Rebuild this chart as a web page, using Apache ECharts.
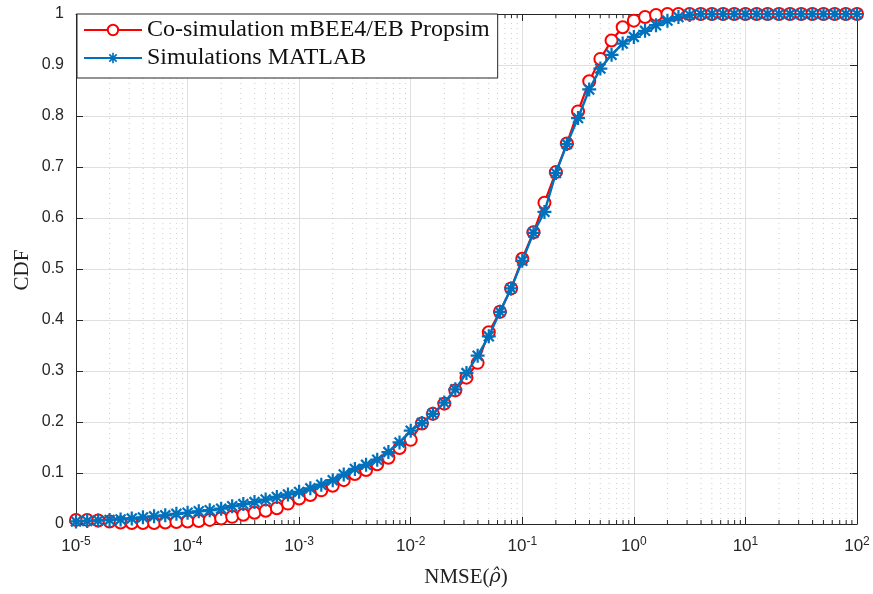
<!DOCTYPE html>
<html>
<head>
<meta charset="utf-8">
<script src="https://cdn.jsdelivr.net/npm/echarts@6/dist/echarts.min.js"></script>
<style>html,body{margin:0;padding:0;background:#fff;}#c{width:873px;height:594px;}</style>
</head>
<body>
<div id="c"></div>
<script>
// NMSE values (x), 10 points per decade
var nmse = [
  1e-5,1.26e-5,1.58e-5,2e-5,2.51e-5,3.16e-5,3.98e-5,5.01e-5,6.31e-5,7.94e-5,
  1e-4,1.26e-4,1.58e-4,2e-4,2.51e-4,3.16e-4,3.98e-4,5.01e-4,6.31e-4,7.94e-4,
  1e-3,1.26e-3,1.58e-3,2e-3,2.51e-3,3.16e-3,3.98e-3,5.01e-3,6.31e-3,7.94e-3,
  1e-2,1.26e-2,1.58e-2,2e-2,2.51e-2,3.16e-2,3.98e-2,5.01e-2,6.31e-2,7.94e-2,
  0.1,0.126,0.158,0.2,0.251,0.316,0.398,0.501,0.631,0.794,
  1,1.26,1.58,2,2.51,3.16,3.98,5.01,6.31,7.94,
  10,12.6,15.8,20,25.1,31.6,39.8,50.1,63.1,79.4,
  100
];
// Co-simulation mBEE4/EB Propsim CDF
var cdfCosim = [
  0.008,0.008,0.007,0.005,0.003,0.002,0.002,0.002,0.003,0.004,
  0.005,0.006,0.008,0.011,0.014,0.018,0.022,0.026,0.031,0.040,
  0.050,0.057,0.066,0.075,0.086,0.098,0.106,0.117,0.130,0.149,
  0.165,0.197,0.216,0.236,0.262,0.287,0.316,0.376,0.416,0.462,
  0.520,0.572,0.630,0.690,0.746,0.809,0.868,0.912,0.948,0.974,
  0.987,0.994,0.998,1,1,1,1,1,1,1,
  1,1,1,1,1,1,1,1,1,1,
  1
];
// Simulations MATLAB CDF
var cdfMatlab = [
  0.005,0.006,0.007,0.008,0.009,0.011,0.013,0.015,0.017,0.020,
  0.022,0.025,0.027,0.030,0.035,0.039,0.043,0.048,0.053,0.058,
  0.063,0.070,0.077,0.086,0.097,0.108,0.116,0.126,0.141,0.160,
  0.183,0.198,0.216,0.238,0.264,0.296,0.330,0.368,0.416,0.462,
  0.516,0.571,0.612,0.688,0.745,0.796,0.852,0.893,0.920,0.942,
  0.955,0.967,0.978,0.987,0.994,0.998,1,1,1,1,
  1,1,1,1,1,1,1,1,1,1,
  1
];
var seriesNames = ['Co-simulation mBEE4/EB Propsim', 'Simulations MATLAB'];
var decades = [1e-5,1e-4,1e-3,1e-2,1e-1,1,10];
var minorMult = [2,3,4,5,6,7,8,9];

var minorVals = [];
decades.forEach(function(d){ minorMult.forEach(function(m){ minorVals.push([d*m]); }); });

function pairs(xs, ys){ return xs.map(function(x,i){ return [x, ys[i]]; }); }

var star = 'path://M-1.6,-10L1.6,-10L1.6,10L-1.6,10Z M-10,-1.6L10,-1.6L10,1.6L-10,1.6Z M-5.94,-8.2L8.2,5.94L5.94,8.2L-8.2,-5.94Z M-8.2,5.94L5.94,-8.2L8.2,-5.94L-5.94,8.2Z';

var axisCol = '#262626';
var chart = echarts.init(document.getElementById('c'), null, {renderer:'canvas'});
chart.setOption({
  animation: false,
  backgroundColor: '#fff',
  grid: {left: 76, right: 16, top: 14, bottom: 70, containLabel: false},
  xAxis: [{
    type: 'log', logBase: 10, min: 1e-5, max: 100, splitNumber: 7,
    position: 'bottom',
    axisLine: {show: true, onZero: false, lineStyle: {color: axisCol, width: 1}},
    axisTick: {show: true, inside: true, length: 7, lineStyle: {color: axisCol}},
    splitLine: {show: true, lineStyle: {color: '#dfdfdf', width: 1}},
    minorTick: {show: false},
    axisLabel: {
      margin: 12, color: axisCol,
      formatter: function(v){ var e = Math.round(Math.log10(v)); return '{b|10}{s|' + e + '}'; },
      rich: {
        b: {fontFamily: 'Liberation Sans', fontSize: 17, color: axisCol},
        s: {fontFamily: 'Liberation Sans', fontSize: 12, color: axisCol, verticalAlign: 'top', padding: [0,0,9,0]}
      }
    }
  }, {
    type: 'log', logBase: 10, min: 1e-5, max: 100, splitNumber: 7,
    position: 'top',
    axisLine: {show: true, onZero: false, lineStyle: {color: axisCol, width: 1}},
    axisTick: {show: true, inside: true, length: 7, lineStyle: {color: axisCol}},
    splitLine: {show: false},
    axisLabel: {show: false}
  }],
  yAxis: [{
    type: 'value', min: 0, max: 1, interval: 0.1, position: 'left',
    axisLine: {show: true, lineStyle: {color: axisCol, width: 1}},
    axisTick: {show: true, inside: true, length: 7, lineStyle: {color: axisCol}},
    splitLine: {show: true, lineStyle: {color: '#dfdfdf', width: 1}},
    axisLabel: {margin: 12, color: axisCol, fontFamily: 'Liberation Sans', fontSize: 16}
  }, {
    type: 'value', min: 0, max: 1, interval: 0.1, position: 'right',
    axisLine: {show: true, lineStyle: {color: axisCol, width: 1}},
    axisTick: {show: true, inside: true, length: 7, lineStyle: {color: axisCol}},
    splitLine: {show: false},
    axisLabel: {show: false}
  }],
  legend: {
    left: 77, top: 14, orient: 'vertical',
    itemWidth: 58, itemHeight: 13, itemGap: 4,
    padding: [4, 8, 8, 6],
    backgroundColor: '#fff', borderColor: axisCol, borderWidth: 1,
    textStyle: {fontFamily: 'Liberation Serif', fontSize: 24, color: '#111', lineHeight: 24},
    data: seriesNames
  },
  graphic: [
    {type: 'text', x: 466, y: 577, z: 10, style: {
      text: '{n|NMSE(}{r|ρ̂}{n|)}', textAlign: 'center', textVerticalAlign: 'middle',
      rich: {n: {fontFamily: 'Liberation Serif', fontSize: 21, fill: '#222'},
             r: {fontFamily: 'DejaVu Serif', fontStyle: 'italic', fontSize: 19, fill: '#222'}}
    }},
    {type: 'text', x: 22, y: 270, rotation: Math.PI/2, z: 10, style: {
      text: 'CDF', textAlign: 'center', textVerticalAlign: 'middle',
      fontFamily: 'Liberation Serif', fontSize: 21, fill: '#222'
    }}
  ],
  series: [{
    type: 'custom', name: 'minorgrid', silent: true, z: 1,
    coordinateSystem: 'cartesian2d', xAxisIndex: 0, yAxisIndex: 0,
    data: minorVals, encode: {x: 0},
    renderItem: function(params, api){
      var v = api.value(0);
      var p0 = api.coord([v, 0]);
      var p1 = api.coord([v, 1]);
      return {type: 'group', children: [
        {type: 'line', shape: {x1: p0[0], y1: p0[1], x2: p1[0], y2: p1[1]},
         style: {stroke: '#cccccc', lineWidth: 1, lineDash: [1, 4]}},
        {type: 'line', shape: {x1: p0[0], y1: p0[1], x2: p0[0], y2: p0[1]-4},
         style: {stroke: axisCol, lineWidth: 1}},
        {type: 'line', shape: {x1: p1[0], y1: p1[1], x2: p1[0], y2: p1[1]+4},
         style: {stroke: axisCol, lineWidth: 1}}
      ]};
    }
  }, {
    type: 'line', name: seriesNames[0], z: 3,
    data: pairs(nmse, cdfCosim),
    symbol: 'emptyCircle', symbolSize: 12, showAllSymbol: true,
    lineStyle: {color: '#ff0000', width: 2.2},
    itemStyle: {color: '#ff0000', borderColor: '#ff0000', borderWidth: 2.2}
  }, {
    type: 'line', name: seriesNames[1], z: 4,
    data: pairs(nmse, cdfMatlab),
    symbol: star, symbolSize: 14, showAllSymbol: true,
    lineStyle: {color: '#0072BD', width: 2.4},
    itemStyle: {color: '#0072BD'}
  }]
});
</script>
</body>
</html>
